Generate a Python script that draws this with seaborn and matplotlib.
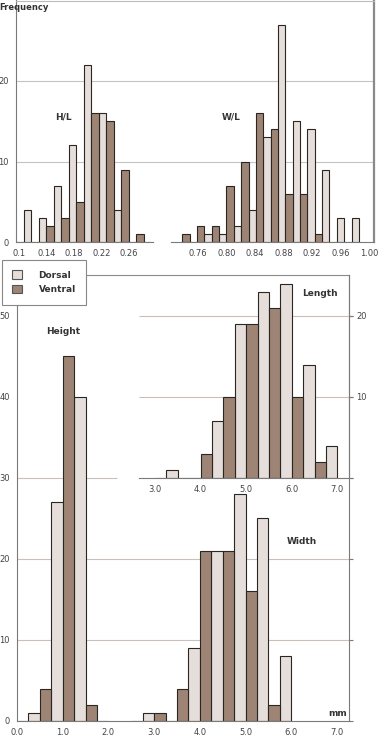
import numpy as np
import pandas as pd
import matplotlib
matplotlib.use("Agg")
import matplotlib.pyplot as plt
from matplotlib.patches import Patch
import seaborn as sns

# ratio histograms (top panel): each bin holds a ventral and a dorsal bar
hl_edges = [0.0952, 0.1171, 0.1390, 0.1609, 0.1828, 0.2047, 0.2266, 0.2485, 0.2704, 0.2923]
hl_ventral = [0, 0, 2, 3, 5, 16, 15, 9, 1]
hl_dorsal = [4, 3, 7, 12, 22, 16, 4, 0, 0]

wl_edges = [0.7375, 0.7582, 0.7789, 0.7996, 0.8203, 0.8410, 0.8617,
            0.8824, 0.9031, 0.9238, 0.9445, 0.9652, 0.9859]
wl_ventral = [1, 2, 2, 7, 10, 16, 14, 6, 6, 1, 0, 0]
wl_dorsal = [0, 1, 1, 2, 4, 13, 27, 15, 14, 9, 3, 3]

# size histograms in mm
height_edges = [0.0, 0.5, 1.0, 1.5, 2.0]
height_ventral = [0, 4, 45, 2]
height_dorsal = [1, 27, 40, 0]

width_edges = [2.5, 3.0, 3.5, 4.0, 4.5, 5.0, 5.5, 6.0]
width_ventral = [0, 1, 4, 21, 21, 16, 2]
width_dorsal = [1, 0, 9, 21, 28, 25, 8]

length_edges = [3.0, 3.5, 4.0, 4.5, 5.0, 5.5, 6.0, 6.5, 7.0]
length_ventral = [0, 0, 3, 10, 19, 21, 10, 2]
length_dorsal = [1, 0, 7, 19, 23, 24, 14, 4]

hl_ticks = [0.10, 0.14, 0.18, 0.22, 0.26]
hl_ticklabels = ["0.1", "0.14", "0.18", "0.22", "0.26"]
wl_ticks = [0.76, 0.80, 0.84, 0.88, 0.92, 0.96, 1.00]
wl_ticklabels = ["0.76", "0.80", "0.84", "0.88", "0.92", "0.96", "1.00"]
mm_ticks = [0.0, 1.0, 2.0, 3.0, 4.0, 5.0, 6.0, 7.0]
mm_ticklabels = ["0.0", "1.0", "2.0", "3.0", "4.0", "5.0", "6.0", "7.0"]

PALETTE = {"Dorsal": "#e5dedb", "Ventral": "#9d8475"}
EDGE = "#2a2622"
GRID_TOP = "#c4c4c4"
GRID_BOT = "#cbbfb7"
SPINE = "#7a7a7a"
TEXT = "#444444"

W, H = 381, 736
sns.set_style("white")
plt.rcParams["font.family"] = ["DejaVu Sans"]

fig = plt.figure(figsize=(W / 100, H / 100), dpi=100)


def px_rect(left, top, right, bottom):
    return [left / W, 1 - bottom / H, (right - left) / W, (bottom - top) / H]


def px_text(x, y, s, size=6.5):
    fig.text(x / W, 1 - y / H, s, ha="center", va="center", fontsize=size,
             fontweight="bold", color="#333333")


def draw_pairs(ax, edges, ventral, dorsal):
    """Dodged ventral/dorsal bars from binned counts."""
    centers = [(a + b) / 2 for a, b in zip(edges[:-1], edges[1:])]
    df = pd.DataFrame({
        "x": centers + centers,
        "n": list(ventral) + list(dorsal),
        "side": ["Ventral"] * len(centers) + ["Dorsal"] * len(centers),
    })
    sns.histplot(df, x="x", weights="n", hue="side", hue_order=["Ventral", "Dorsal"],
                 bins=edges, multiple="dodge", shrink=1, palette=PALETTE,
                 edgecolor=EDGE, linewidth=0.8, alpha=1, legend=False, ax=ax)
    ax.set_xlabel("")
    ax.set_ylabel("")


def style_ticks(ax, axis="both"):
    ax.tick_params(axis=axis, direction="out", length=3, width=0.8, color=SPINE,
                   labelsize=6, labelcolor=TEXT, pad=2)


# ---- top panel: frequency of ratios
ax_top = fig.add_axes(px_rect(16, 0.5, 374, 242))
ax_top.set_xlim(0, 1)
ax_top.set_ylim(0, 30)
ax_top.set_xticks([])
ax_top.set_yticks([0, 10, 20])
for y in [10, 20]:
    ax_top.axhline(y, color=GRID_TOP, lw=0.8, zorder=0)
ax_top.spines["bottom"].set_visible(False)
ax_top.spines["left"].set_color(SPINE)
ax_top.spines["left"].set_linewidth(0.8)
ax_top.spines["top"].set_color("#bbbbbb")
ax_top.spines["top"].set_linewidth(0.8)
ax_top.spines["right"].set_color("#8a8a8a")
ax_top.spines["right"].set_linewidth(1.6)
style_ticks(ax_top, "y")

ax_hl = fig.add_axes(px_rect(16, 0.5, 153, 242))
ax_wl = fig.add_axes(px_rect(171, 0.5, 374, 242))
for ax, edges, v, d, lim, ticks, labels in [
    (ax_hl, hl_edges, hl_ventral, hl_dorsal, (0.0952, 0.2952), hl_ticks, hl_ticklabels),
    (ax_wl, wl_edges, wl_ventral, wl_dorsal, (0.7216, 1.0071), wl_ticks, wl_ticklabels),
]:
    ax.patch.set_visible(False)
    draw_pairs(ax, edges, v, d)
    ax.set_xlim(*lim)
    ax.set_ylim(0, 30)
    ax.set_yticks([])
    ax.set_xticks(ticks)
    ax.set_xticklabels(labels)
    for s in ["left", "right", "top"]:
        ax.spines[s].set_visible(False)
    ax.spines["bottom"].set_color(SPINE)
    ax.spines["bottom"].set_linewidth(0.8)
    style_ticks(ax, "x")

# ---- bottom panel: height and width in mm
ax_mm = fig.add_axes(px_rect(17, 275, 349, 721))
draw_pairs(ax_mm, height_edges, height_ventral, height_dorsal)
draw_pairs(ax_mm, width_edges, width_ventral, width_dorsal)
ax_mm.set_xlim(0, 7.263)
ax_mm.set_ylim(0, 55.06)
ax_mm.hlines([10, 20], 0, 7.263, color=GRID_BOT, lw=0.8, zorder=0)
ax_mm.hlines(30, 0, 2.19, color=GRID_BOT, lw=0.8, zorder=0)
ax_mm.set_yticks([0, 10, 20, 30, 40, 50])
ax_mm.set_xticks(mm_ticks)
ax_mm.set_xticklabels(mm_ticklabels)
ax_mm.set_xticks(np.arange(0.5, 7.0, 1.0), minor=True)
for s in ax_mm.spines.values():
    s.set_color(SPINE)
    s.set_linewidth(0.8)
ax_mm.spines["top"].set_color("#8a8a8a")
style_ticks(ax_mm)
ax_mm.tick_params(axis="x", which="minor", direction="out", length=3, width=0.8, color=SPINE)
ax_mm.tick_params(axis="y", right=True, labelright=False)

# ---- inset: length in mm
ax_len = fig.add_axes(px_rect(139, 275, 349, 478))
ax_len.patch.set_visible(False)
draw_pairs(ax_len, length_edges, length_ventral, length_dorsal)
ax_len.set_xlim(2.649, 7.254)
ax_len.set_ylim(0, 25.06)
ax_len.hlines([10, 20], 2.649, 7.254, color=GRID_BOT, lw=0.8, zorder=0)
ax_len.set_xticks([3.0, 4.0, 5.0, 6.0, 7.0])
ax_len.set_xticklabels(mm_ticklabels[3:])
ax_len.set_xticks(np.arange(3.5, 7.0, 1.0), minor=True)
ax_len.yaxis.tick_right()
ax_len.set_yticks([0, 10, 20])
ax_len.set_yticklabels(["", "10", "20"])
for s in ["left", "top"]:
    ax_len.spines[s].set_visible(False)
for s in ["bottom", "right"]:
    ax_len.spines[s].set_color(SPINE)
    ax_len.spines[s].set_linewidth(0.8)
style_ticks(ax_len)
ax_len.tick_params(axis="x", which="minor", direction="out", length=3, width=0.8, color=SPINE)

# ---- labels
px_text(24, 8, "Frequency", size=6)
px_text(63, 117, "H/L")
px_text(231, 117, "W/L")
px_text(63, 331, "Height")
px_text(320, 294, "Length")
px_text(302, 542, "Width")
px_text(338, 713, "mm")

handles = [Patch(facecolor=PALETTE["Dorsal"], edgecolor="#555555", lw=0.8),
           Patch(facecolor=PALETTE["Ventral"], edgecolor="#555555", lw=0.8)]
leg = fig.legend(handles, ["Dorsal", "Ventral"], loc="upper left",
                 bbox_to_anchor=(2 / W, 1 - 260 / H), borderaxespad=0,
                 frameon=True, fancybox=False, framealpha=1, edgecolor="#888888",
                 borderpad=1.15, handlelength=1.1, handleheight=1.1,
                 handletextpad=1.8, labelspacing=0.55,
                 prop={"size": 6.5, "weight": "bold"})
leg.get_frame().set_linewidth(0.8)
for t in leg.get_texts():
    t.set_color("#333333")

fig.savefig("out.png", dpi=100)
